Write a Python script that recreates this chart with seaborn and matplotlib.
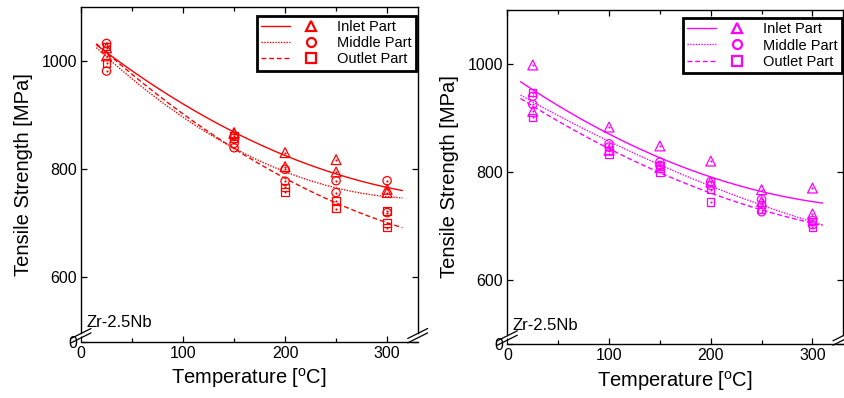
import numpy as np
import pandas as pd
import matplotlib
matplotlib.use("Agg")
import matplotlib.pyplot as plt
import seaborn as sns
from matplotlib.lines import Line2D
from matplotlib.legend_handler import HandlerTuple

# ---------------- data ----------------
series_names = ["Inlet Part", "Middle Part", "Outlet Part"]

# Left panel (red)
L_inlet_T = [25, 25, 150, 150, 200, 200, 250, 250, 300, 300]
L_inlet_S = [1025, 1010, 868, 866, 831, 805, 818, 795, 763, 757]
L_middle_T = [25, 25, 150, 150, 200, 200, 250, 250, 300, 300]
L_middle_S = [1033, 982, 848, 840, 800, 778, 779, 757, 779, 720]
L_outlet_T = [25, 25, 150, 150, 200, 200, 250, 250, 300, 300, 300]
L_outlet_S = [1028, 997, 862, 858, 767, 758, 742, 727, 723, 701, 692]

# Right panel (magenta)
R_inlet_T = [25, 25, 100, 100, 150, 150, 200, 200, 250, 250, 300, 300]
R_inlet_S = [998, 912, 883, 840, 848, 808, 820, 781, 767, 745, 770, 722]
R_middle_T = [25, 25, 100, 100, 150, 150, 200, 200, 250, 250, 300, 300]
R_middle_S = [940, 925, 852, 846, 818, 812, 782, 775, 749, 726, 710, 702]
R_outlet_T = [25, 25, 100, 100, 150, 150, 200, 200, 250, 250, 300, 300]
R_outlet_S = [947, 901, 839, 833, 811, 800, 767, 744, 740, 730, 708, 697]

L_fit_range = (15, 315)
R_fit_range = (13, 310)

x_ticks = [0, 100, 200, 300]
x_minor = [50, 150, 250]
y_ticks = [481, 600, 800, 1000]
y_ticklabels = ["0", "600", "800", "1000"]
x_lim = (0, 330)
y_lim = (481, 1100)
y_break = 497

# ---------------- style ----------------
sns.set_style("ticks")
plt.rcParams["font.family"] = ["Liberation Sans", "DejaVu Sans"]
plt.rcParams["mathtext.fontset"] = "custom"
plt.rcParams["mathtext.rm"] = "Liberation Sans"
plt.rcParams["mathtext.it"] = "Liberation Sans:italic"
for k in ("text.color", "axes.labelcolor", "xtick.color", "ytick.color",
          "axes.edgecolor"):
    plt.rcParams[k] = "black"

fig = plt.figure(figsize=(8.44, 3.98), dpi=100)
axL = fig.add_axes([0.0960, 0.1415, 0.3989, 0.8402])
axR = fig.add_axes([0.6011, 0.1357, 0.3977, 0.8392])

markers = ["^", "o", "s"]
msizes = [50, 36, 28]
lstyles = ["-", (0, (1, 1)), (0, (3.5, 2))]


def draw_panel(ax, sets, color, fit_range, legend_anchor):
    for (T, S), m, s, ls in zip(sets, markers, msizes, lstyles):
        df = pd.DataFrame({"T": T, "S": S})
        sns.scatterplot(data=df, x="T", y="S", marker=m, s=s,
                        facecolor="none", edgecolor=color, linewidth=0.9,
                        ax=ax, zorder=3)
        sns.scatterplot(data=df, x="T", y="S", marker="o", s=2.5,
                        color=color, linewidth=0, ax=ax, zorder=4)
        coef = np.polyfit(T, S, 2)
        tt = np.linspace(fit_range[0], fit_range[1], 200)
        fit = pd.DataFrame({"T": tt, "S": np.polyval(coef, tt)})
        sns.lineplot(data=fit, x="T", y="S", color=color, linestyle=ls,
                     linewidth=1.0, ax=ax, zorder=2)

    ax.set_xlim(*x_lim)
    ax.set_ylim(*y_lim)
    ax.set_xticks(x_ticks)
    ax.set_xticks(x_minor, minor=True)
    ax.set_yticks(y_ticks)
    ax.set_yticklabels(y_ticklabels)
    ax.tick_params(which="both", direction="in", top=True, right=True,
                   labelsize=11.5, width=0.9, pad=3)
    ax.tick_params(which="major", length=4.5)
    ax.tick_params(which="minor", length=3)
    for sp in ax.spines.values():
        sp.set_linewidth(1.0)
        sp.set_color("black")
    ax.spines["left"].set_bounds(y_break, y_lim[1])
    ax.spines["right"].set_bounds(y_break, y_lim[1])
    ax.set_xlabel("Temperature [$^{\\mathrm{o}}$C]", fontsize=14.5, labelpad=4)
    ax.set_ylabel("Tensile Strength [MPa]", fontsize=14.5, labelpad=6)

    # break marks on the y-axis
    bbox = ax.get_window_extent()
    wpx, hpx = bbox.width, bbox.height
    ycen = 6.0 / hpx
    for xs in (0.0, 1.0):
        for off in (-2.2, 2.2):
            dx = 10.0 / wpx
            dy = 5.0 / hpx
            ax.add_line(Line2D([xs - dx, xs + dx],
                               [ycen - dy + off / hpx, ycen + dy + off / hpx],
                               transform=ax.transAxes, color="black",
                               lw=0.9, clip_on=False, zorder=6))

    ax.text(0.016, 0.056, "Zr-2.5Nb", transform=ax.transAxes,
            fontsize=12, va="center", ha="left")

    handles = []
    for m, ls in zip(markers, lstyles):
        ln = Line2D([], [], color=color, linestyle=ls, linewidth=1.0)
        mk = Line2D([], [], linestyle="none", marker=m, markersize=6.5,
                    markerfacecolor="none", markeredgecolor=color,
                    markeredgewidth=1.6)
        handles.append((ln, mk))
    leg = ax.legend(handles, series_names, loc="upper right",
                    bbox_to_anchor=legend_anchor, borderaxespad=0,
                    handler_map={tuple: HandlerTuple(ndivide=2, pad=0.5)},
                    handlelength=4.4, handletextpad=0.8, fontsize=10.5,
                    labelspacing=0.15, borderpad=0.3, fancybox=False,
                    framealpha=1, edgecolor="black")
    leg.get_frame().set_linewidth(2.0)
    leg.set_zorder(10)


draw_panel(axL,
           [(L_inlet_T, L_inlet_S), (L_middle_T, L_middle_S),
            (L_outlet_T, L_outlet_S)],
           "#ff0000", L_fit_range, (0.995, 0.975))
draw_panel(axR,
           [(R_inlet_T, R_inlet_S), (R_middle_T, R_middle_S),
            (R_outlet_T, R_outlet_S)],
           "#ff00ff", R_fit_range, (0.998, 0.976))

fig.savefig("out.png", dpi=100)
